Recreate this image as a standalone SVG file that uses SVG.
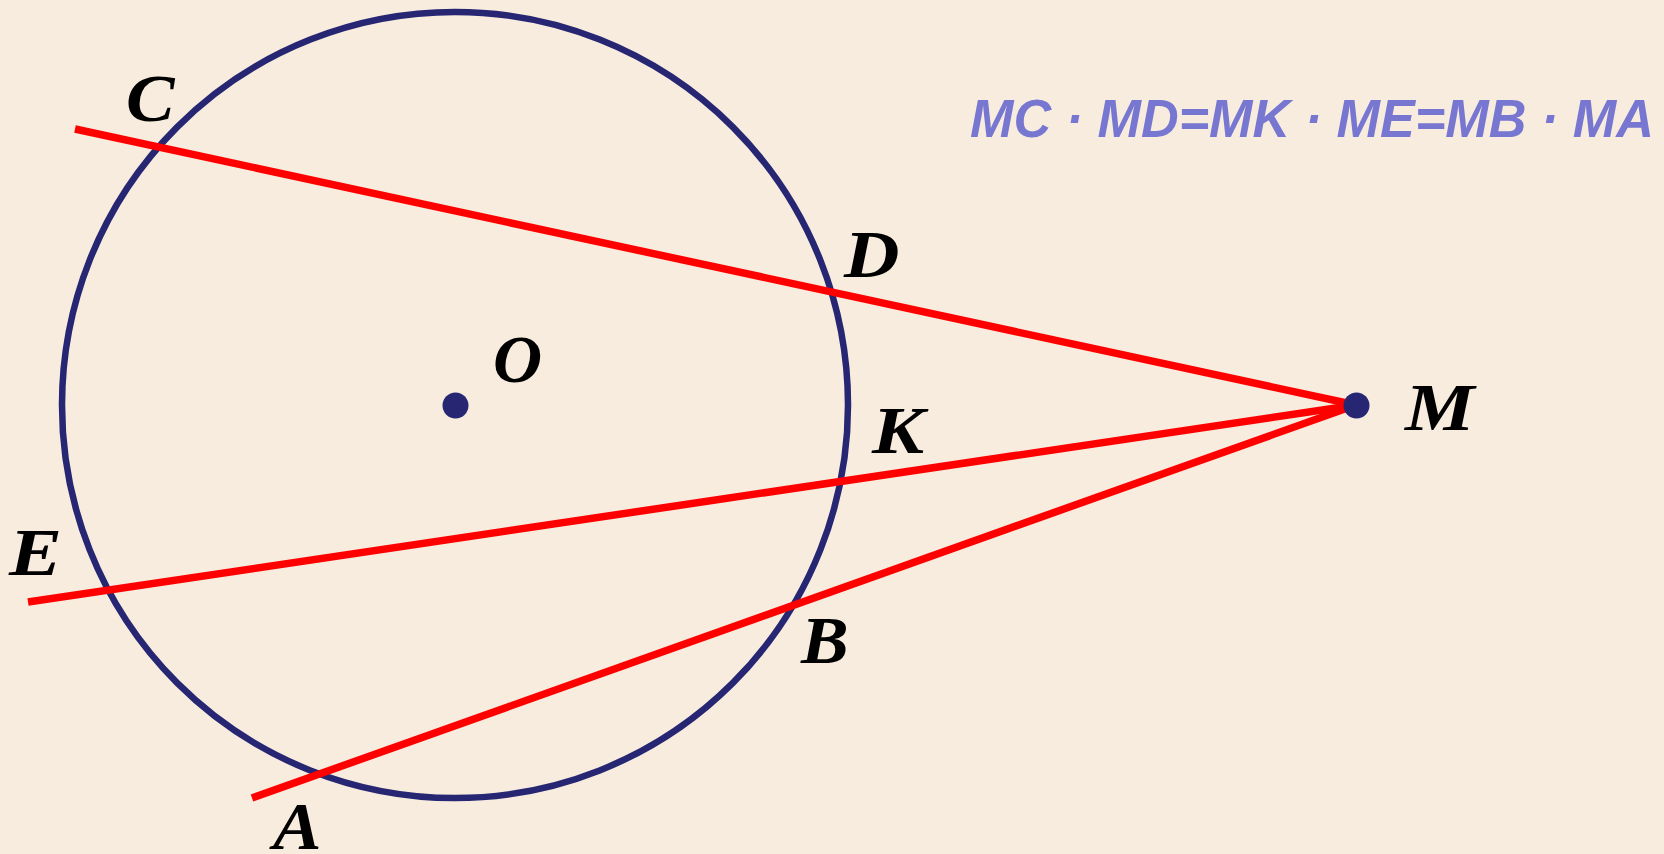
<svg xmlns="http://www.w3.org/2000/svg" width="1664" height="854" viewBox="0 0 1664 854">
<style>
.bg{fill:#f8ecdf}
.circ{fill:none;stroke:#262672;stroke-width:6.5}
.seg{stroke:#ff0000;stroke-width:7.5;fill:none}
.pt{fill:#262672}
.lbl{font-family:"Liberation Serif","Times New Roman",serif;font-style:italic;font-weight:bold;font-size:68px;fill:#000}
.eq{font-family:"Liberation Sans",Arial,sans-serif;font-style:italic;font-weight:bold;font-size:53px;fill:#7777d1}
</style>
<rect class="bg" x="0" y="0" width="1664" height="854"/>
<g id="circle"><circle class="circ" cx="455" cy="405" r="393"/></g>
<g id="connectors">
<line class="seg" x1="75" y1="129" x2="1356" y2="405"/>
<line class="seg" x1="28" y1="602" x2="1356" y2="405"/>
<line class="seg" x1="252" y1="798" x2="1356" y2="405"/>
</g>
<g id="node-O"><circle class="pt" cx="455.5" cy="405.5" r="13"/><text class="lbl" transform="translate(493,382)">O</text></g>
<g id="node-M"><circle class="pt" cx="1356.5" cy="405.5" r="13"/><text class="lbl" transform="translate(1405,430) scale(1.15,1)">M</text></g>
<g id="node-C"><text class="lbl" transform="translate(126,121) scale(1.07,1)">C</text></g>
<g id="node-D"><text class="lbl" transform="translate(844,277) scale(1.13,1)">D</text></g>
<g id="node-K"><text class="lbl" transform="translate(872,453) scale(1.15,1)">K</text></g>
<g id="node-E"><text class="lbl" transform="translate(9,575) scale(1.17,1)">E</text></g>
<g id="node-B"><text class="lbl" transform="translate(801,663) scale(1.05,1)">B</text></g>
<g id="node-A"><text class="lbl" transform="translate(273,849) scale(1.07,1)">A</text></g>
<g id="formula"><text class="eq" x="970" y="137" textLength="684" lengthAdjust="spacingAndGlyphs">MC · MD=MK · ME=MB · MA</text></g>
</svg>
